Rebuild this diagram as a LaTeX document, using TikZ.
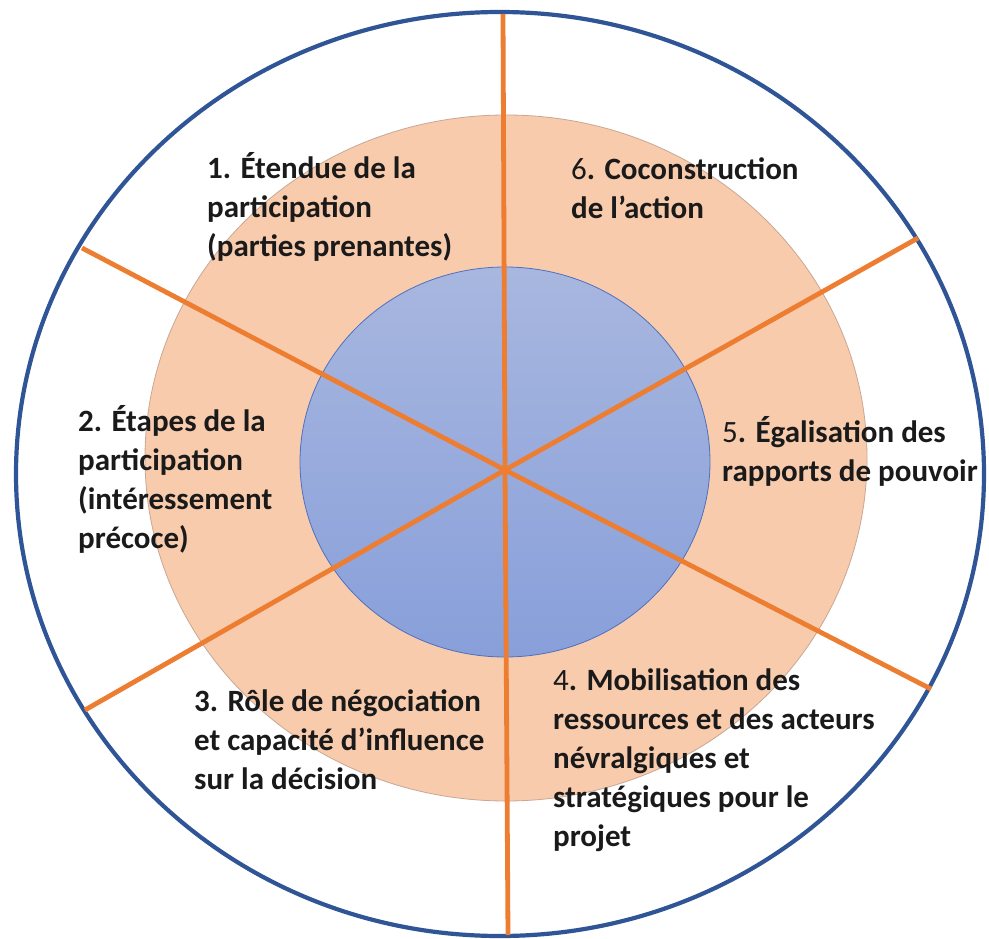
\documentclass[tikz,border=0pt]{standalone}
\usepackage{fontspec}
\setmainfont{Carlito}
\definecolor{outerblue}{HTML}{2F5597}
\definecolor{peach}{HTML}{F8CBAD}
\definecolor{peachline}{HTML}{C8A794}
\definecolor{bluetop}{HTML}{A8B7DF}
\definecolor{bluebot}{HTML}{889FDA}
\definecolor{blueline}{HTML}{4F6FBF}
\definecolor{spoke}{HTML}{ED7D31}
\definecolor{ink}{HTML}{1A1A1A}
\newcommand\lblrows[1]{\begin{tabular}[t]{@{}l@{}}#1\end{tabular}}
\tikzset{
  outerring/.style={draw=outerblue, line width=4.2pt, fill=white},
  peachring/.style={draw=peachline, line width=0.8pt, fill=peach},
  core/.style={draw=blueline, line width=0.8pt, top color=bluetop, bottom color=bluebot},
  spokeline/.style={draw=spoke, line width=4.8pt},
  lbl/.style={anchor=base west, inner sep=0pt, text=ink, font=\fontsize{31}{39}\selectfont\bfseries},
}
\begin{document}
\begin{tikzpicture}[x=1pt,y=-1pt]
\useasboundingbox (0,0) rectangle (989,939);
\path[outerring] (500,474) ellipse [x radius=484, y radius=462];
\path[peachring] (506,458) ellipse [x radius=361, y radius=343];
\path[core] (505,462) ellipse [x radius=205, y radius=195];
% spoke end points on the outer ring
\coordinate (O) at (505,470);
\coordinate (top) at (503,14);
\coordinate (bot) at (508,935);
\coordinate (ul) at (82,248);
\coordinate (lr) at (931,689);
\coordinate (ll) at (85,710);
\coordinate (ur) at (918,238);
\draw[spokeline] (top) -- (O) -- (bot);
\draw[spokeline] (ul) -- (O) -- (lr);
\draw[spokeline] (ll) -- (O) -- (ur);
% labels
\node[lbl] (l1) at (207,179) {\lblrows{1. Étendue de la\\participation\\(parties prenantes)}};
\node[lbl] (l2) at (78,431) {\lblrows{2. Étapes de la\\participation\\(intéressement\\précoce)}};
\node[lbl] (l3) at (194,711) {\lblrows{3. Rôle de négociation\\et capacité d’influence\\sur la décision}};
\node[lbl] (l4) at (553,690) {\lblrows{{\mdseries 4}. Mobilisation des\\ressources et des acteurs\\névralgiques et\\stratégiques pour le\\projet}};
\node[lbl] (l5) at (722,442) {\lblrows{{\mdseries 5}. Égalisation des\\rapports de pouvoir}};
\node[lbl] (l6) at (571,180) {\lblrows{{\mdseries 6}. Coconstruction\\de l’action}};
\end{tikzpicture}
\end{document}
